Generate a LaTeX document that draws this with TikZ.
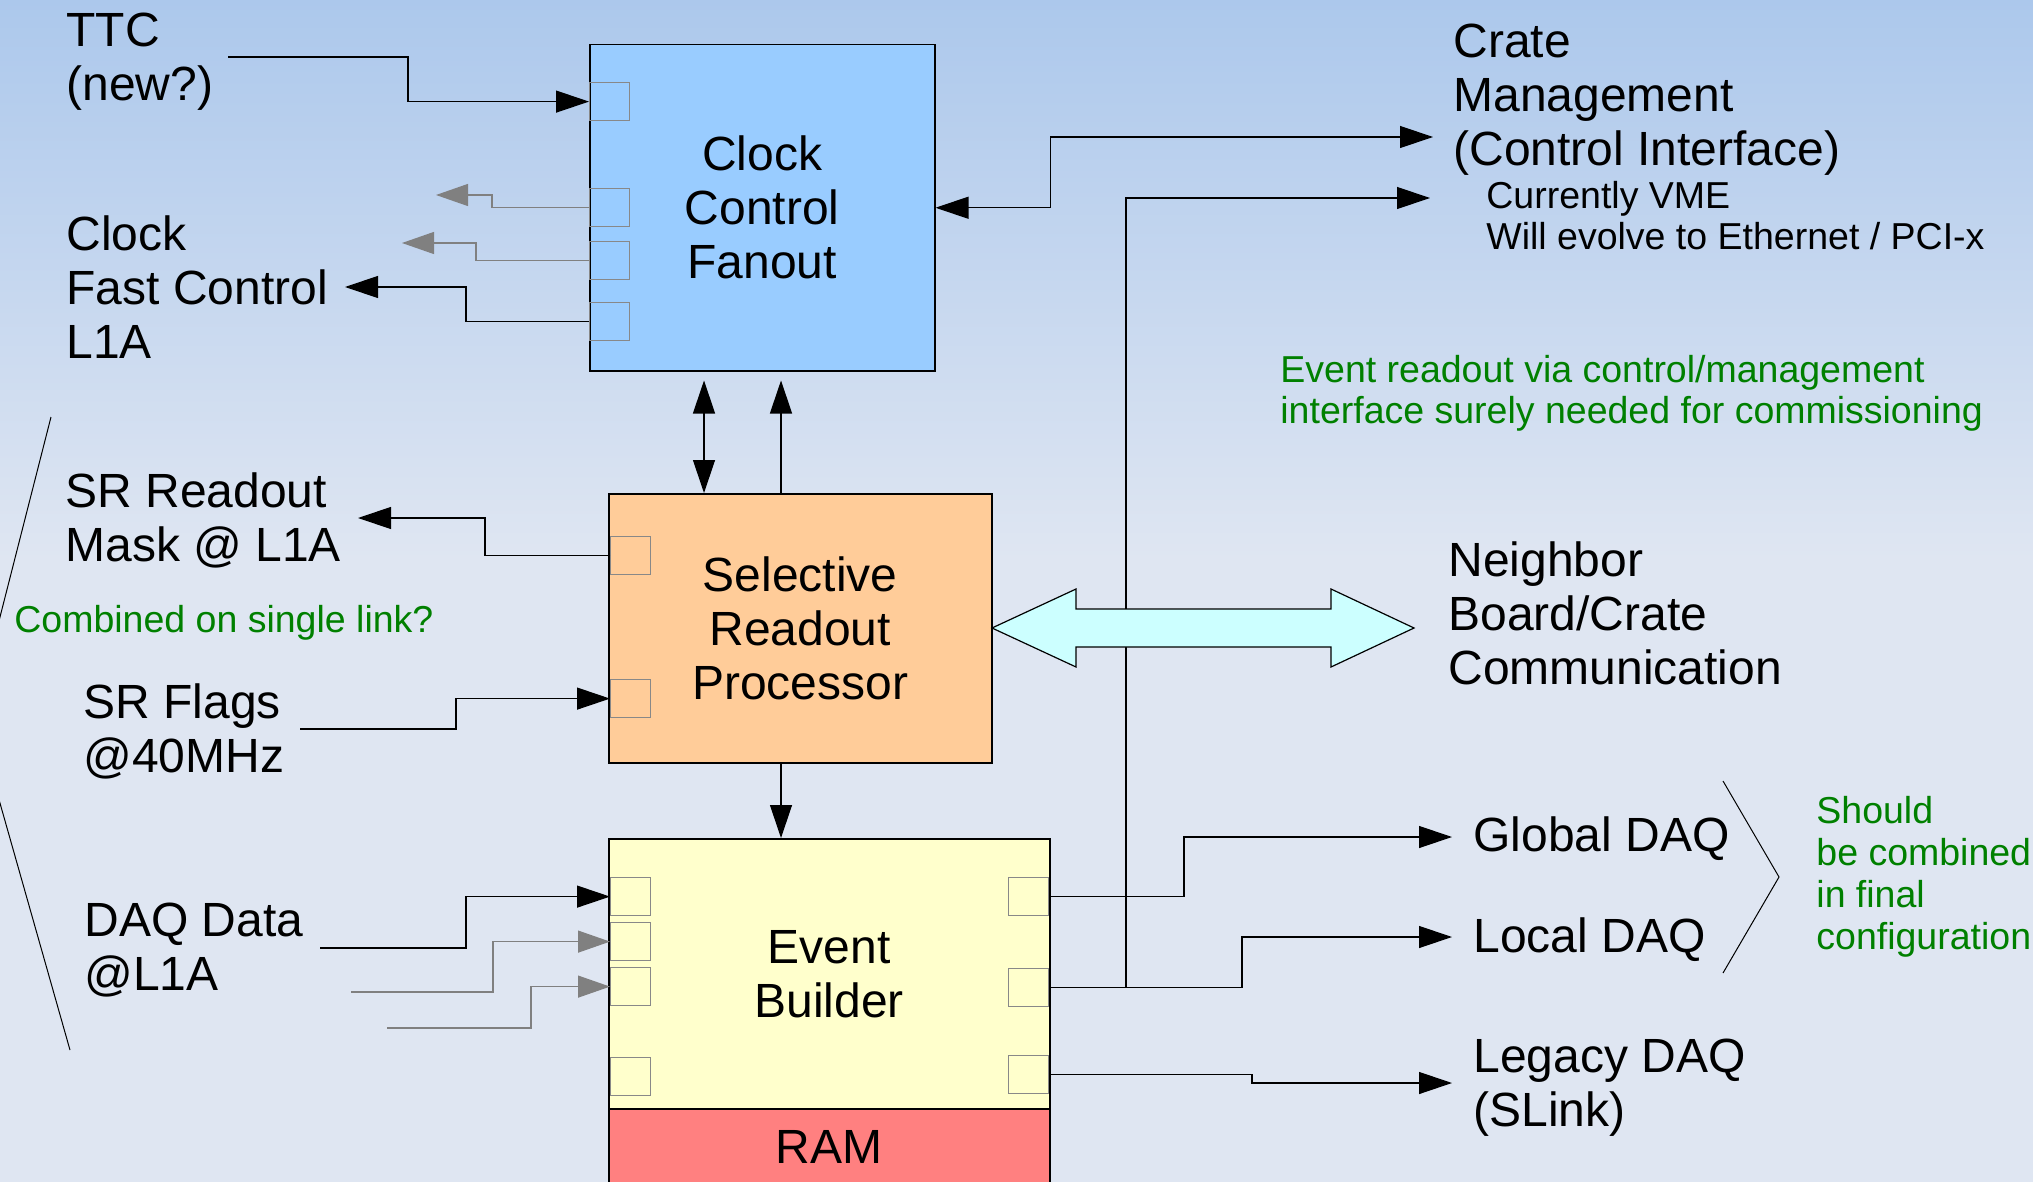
\documentclass[tikz,border=0pt]{standalone}
\usepackage{fontspec}
\setmainfont{Liberation Sans}
\usetikzlibrary{arrows.meta,calc}
\definecolor{bgtop}{RGB}{172,200,236}
\definecolor{bgbot}{RGB}{223,230,242}
\definecolor{ccfc}{RGB}{153,204,255}
\definecolor{srpc}{RGB}{255,204,153}
\definecolor{ebc}{RGB}{255,255,204}
\definecolor{ramc}{RGB}{255,128,128}
\definecolor{nbc}{RGB}{204,255,255}
\definecolor{grn}{RGB}{0,128,0}
\definecolor{portc}{RGB}{136,136,136}
\definecolor{garrc}{RGB}{128,128,128}
\newcommand{\mlines}[1]{\begin{tabular}[t]{@{}l@{}}#1\end{tabular}}
\newcommand{\bigfont}{\fontsize{24}{27}\selectfont}
\newcommand{\smallfont}{\fontsize{18.75}{20.5}\selectfont}
\begin{document}
\begin{tikzpicture}[x=0.5pt,y=-0.5pt,
  box/.style={draw=black,line width=0.75pt,anchor=north west,inner sep=0pt,font=\bigfont,align=center},
  port/.style={draw=portc,line width=0.6pt,anchor=north west,inner sep=0pt,minimum width=20pt,minimum height=19pt},
  rport/.style={port,anchor=north east},
  lbl/.style={anchor=base west,inner sep=0pt,font=\bigfont},
  note/.style={anchor=base west,inner sep=0pt,font=\smallfont,text=grn},
  sub/.style={anchor=base west,inner sep=0pt,font=\smallfont},
  conn/.style={line width=0.6pt,draw=black},
  arr/.style={conn,-{Triangle[length=16.5pt,width=11pt]}},
  arrb/.style={conn,{Triangle[length=16.5pt,width=11pt]}-{Triangle[length=16.5pt,width=11pt]}},
  garr/.style={line width=0.6pt,draw=garrc,-{Triangle[length=16pt,width=11pt]}},
  brk/.style={line width=0.5pt,draw=black}
]
\useasboundingbox (0,0) rectangle (2033,1182);
% background
\shade[top color=bgtop,bottom color=bgbot] (0,0) rectangle (2033,560);
\fill[bgbot] (0,559) rectangle (2033,1182);

% boxes
\node[box,fill=ccfc,minimum width=172.5pt,minimum height=163pt] (ccf) at (589,44) {Clock\\Control\\Fanout};
\node[box,fill=srpc,minimum width=191.5pt,minimum height=134.5pt] (srp) at (608,493) {Selective\\Readout\\Processor};
\node[box,fill=ebc,minimum width=220.5pt,minimum height=135pt] (eb) at (608,838) {Event\\Builder};
\node[box,fill=ramc,minimum width=220.5pt,minimum height=38pt] (ram) at (608,1108) {RAM};

% ports
\node[port] (pc1) at (589,82) {};
\node[port] (pc2) at (589,188) {};
\node[port] (pc3) at (589,241) {};
\node[port] (pc4) at (589,302) {};
\node[port] (ps1) at (610,536) {};
\node[port] (ps2) at (610,679) {};
\node[port] (pe1) at (610,877) {};
\node[port] (pe2) at (610,922) {};
\node[port] (pe3) at (610,967) {};
\node[port] (pe4) at (610,1057) {};
\node[rport] (pr1) at (1049,877) {};
\node[rport] (pr2) at (1049,968) {};
\node[rport] (pr3) at (1049,1055) {};

% labels
\node[lbl] (ttc) at (66,47) {\mlines{TTC\\(new?)}};
\node[lbl] (clk) at (66,250) {\mlines{Clock\\Fast Control\\L1A}};
\node[lbl] (srm) at (65,507) {\mlines{SR Readout\\Mask @ L1A}};
\node[note] (comb) at (14,632) {Combined on single link?};
\node[lbl] (srf) at (83,718) {\mlines{SR Flags\\@40MHz}};
\node[lbl] (daq) at (84,936) {\mlines{DAQ Data\\@L1A}};
\node[lbl] (crate) at (1453,58) {\mlines{Crate\\Management\\(Control Interface)}};
\node[sub] (vme) at (1486,209) {\mlines{Currently VME\\Will evolve to Ethernet / PCI-x}};
\node[note] (evro) at (1280,382) {\mlines{Event readout via control/management\\interface surely needed for commissioning}};
\node[lbl] (nbr) at (1448,576) {\mlines{Neighbor\\Board/Crate\\Communication}};
\node[lbl] (gdaq) at (1473,851) {Global DAQ};
\node[lbl] (ldaq) at (1473,952) {Local DAQ};
\node[lbl] (lgdaq) at (1473,1072) {\mlines{Legacy DAQ\\(SLink)}};
\node[note,font=\fontsize{18.75}{21}\selectfont] (should) at (1816,823) {\mlines{Should\\be combined\\in final\\configuration}};

% free ends
\coordinate (ttcs) at (228,57);
\coordinate (g1end) at (436,195);
\coordinate (g2end) at (402,243);
\coordinate (fcend) at (345,287);
\coordinate (srend) at (358,518);
\coordinate (sfs) at (300,729);
\coordinate (d1s) at (320,948);
\coordinate (d2s) at (351,992);
\coordinate (d3s) at (387,1028);
\coordinate (cmend) at (1433,137);
\coordinate (cm2end) at (1430,198);
\coordinate (gend) at (1452,837);
\coordinate (lend) at (1452,937);
\coordinate (lgend) at (1452,1083);

% connectors left
\draw[arr] (ttcs) -- ++(180,0) |- (pc1.west);
\draw[garr] (pc2.west) -- ++(-97,0) |- (g1end);
\draw[garr] (pc3.west) -- ++(-113,0) |- (g2end);
\draw[arr] (pc4.west) -- ++(-123,0) |- (fcend);
\draw[arr] (ps1.west) -- ++(-125,0) |- (srend);
\draw[arr] (sfs) -- ++(156,0) |- (ps2.west);
\draw[arr] (d1s) -- ++(146,0) |- (pe1.west);
\draw[garr] (d2s) -- ++(142,0) |- (pe2.west);
\draw[garr] (d3s) -- ++(144,0) |- (pe3.west);

% vertical connectors
\draw[arrb] ($(ccf.south west)+(115,9)$) -- ($(srp.north west)+(96,0)$);
\draw[arr] ($(srp.north west)+(173,0)$) -- ($(ccf.south west)+(192,9)$);
\draw[arr] ($(srp.south west)+(173,0)$) -- ($(eb.north west)+(173,0)$);

% connectors right
\draw[arrb] (ccf.east) -- ++(115,0) |- (cmend);
\draw[arr] (pr2.east) -- ++(77,0) |- (cm2end);
\draw[arr] (pr1.east) -- ++(135,0) |- (gend);
\draw[arr] (pr2.east) -- ++(193,0) |- (lend);
\draw[arr] (pr3.east) -- ++(203,0) |- (lgend);

% neighbor double arrow
\draw[fill=nbc,line width=0.6pt] (992,628) -- (1076,589) -- (1076,609) -- (1331,609) -- (1331,589) -- (1414,628) -- (1331,667) -- (1331,647) -- (1076,647) -- (1076,667) -- cycle;

% brackets
\draw[brk] (51,417) -- (-25,715) -- (70,1050);
\draw[brk] (1723,781) -- (1779,877) -- (1723,973);
\end{tikzpicture}
\end{document}
